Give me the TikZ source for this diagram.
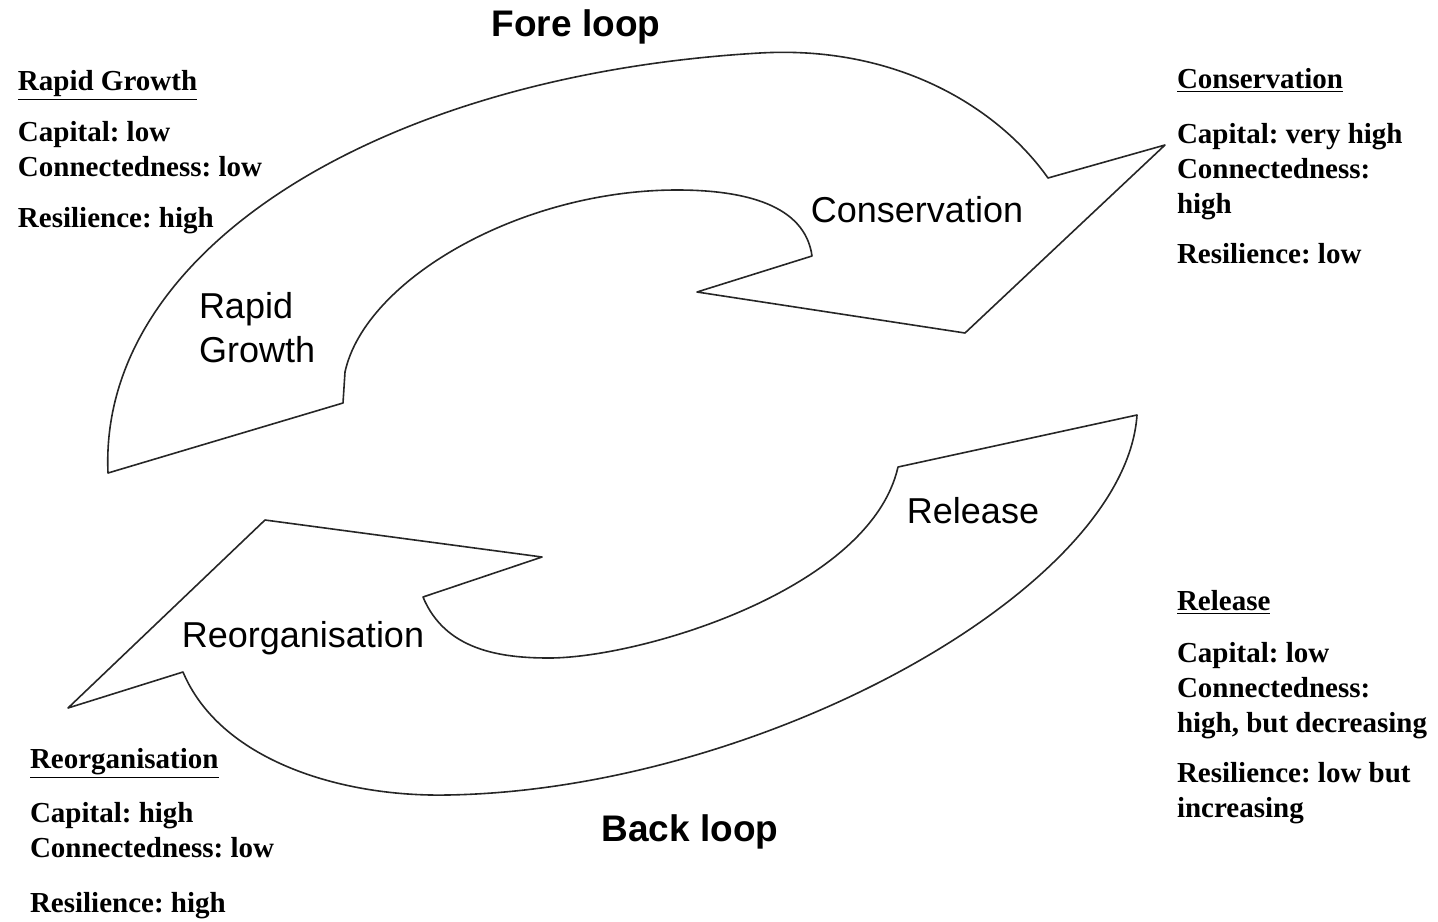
\documentclass[tikz,border=0pt]{standalone}
\usepackage{fontspec}
\setmainfont{Liberation Serif}
\setsansfont{Liberation Sans}
\usepackage{tikz}
\frenchspacing

\begin{document}
\begin{tikzpicture}[x=0.5pt,y=-0.5pt,inner sep=0pt,outer sep=0pt,
    outline/.style={draw=black!85,line width=0.8pt,line join=round},
    stage/.style={font=\sffamily\fontsize{18}{22}\selectfont},
    loopname/.style={anchor=base,font=\sffamily\bfseries\fontsize{18.5}{22}\selectfont},
    info/.style={anchor=north west,font=\bfseries\fontsize{14.5}{17.5}\selectfont}]
    \useasboundingbox (0,0) rectangle (1438,921);
    % 
    % fore loop arrow
    \draw[outline] (343,403) -- (108,473)
        .. controls (98,250) and (380,75) .. (760,53)
        .. controls (900,45) and (1000,110) .. (1048,178)
        -- (1165,145) -- (965,333) -- (697,292) -- (812,256)
        .. controls (805,205) and (745,190) .. (677,190)
        .. controls (520,190) and (365,280) .. (345,372)
        -- cycle;
    % back loop arrow
    \draw[outline] (68,708) -- (265,520) -- (542,557) -- (423,597)
        .. controls (445,650) and (500,658) .. (549,658)
        .. controls (640,658) and (870,590) .. (898,467)
        -- (1137,415)
        .. controls (1125,590) and (760,790) .. (447,795)
        .. controls (340,797) and (220,760) .. (183,672)
        -- cycle;
    % 
    \node[loopname] (fore) at (576,36) {Fore loop};
    \node[loopname] (back) at (690,841) {Back loop};
    % 
    \node[stage,anchor=base] (cons) at (917,222) {Conservation};
    \node[stage,anchor=north west,align=left] (rapid) at (199,292) {Rapid\\Growth};
    \node[stage,anchor=base] (rel) at (973,523) {Release};
    \node[stage,anchor=base] (reorg) at (303,647) {Reorganisation};
    % 
    \node[info] (rapid_info) at (18,65.5)
    {
    \begin{tabular}{@{}l@{}}
    \underline{Rapid Growth} \\[8pt]
    Capital: low \\
    Connectedness: low \\[8pt]
    Resilience: high \\
    \end{tabular}
    };
    \node[info] (cons_info) at (1177,63.5)
    {
    \begin{tabular}{@{}l@{}}
    \underline{Conservation} \\[10pt]
    Capital: very high \\
    Connectedness: \\
    high \\[7.5pt]
    Resilience: low \\
    \end{tabular}
    };
    \node[info] (rel_info) at (1177,585.5)
    {
    \begin{tabular}{@{}l@{}}
    \underline{Release} \\[8.5pt]
    Capital: low \\
    Connectedness: \\
    high, but decreasing \\[7.5pt]
    Resilience: low but \\
    increasing \\
    \end{tabular}
    };
    \node[info] (reorg_info) at (30,743.5)
    {
    \begin{tabular}{@{}l@{}}
    \underline{Reorganisation} \\[9.5pt]
    Capital: high \\
    Connectedness: low \\[10pt]
    Resilience: high \\
    \end{tabular}
    };

\end{tikzpicture}
\end{document}
